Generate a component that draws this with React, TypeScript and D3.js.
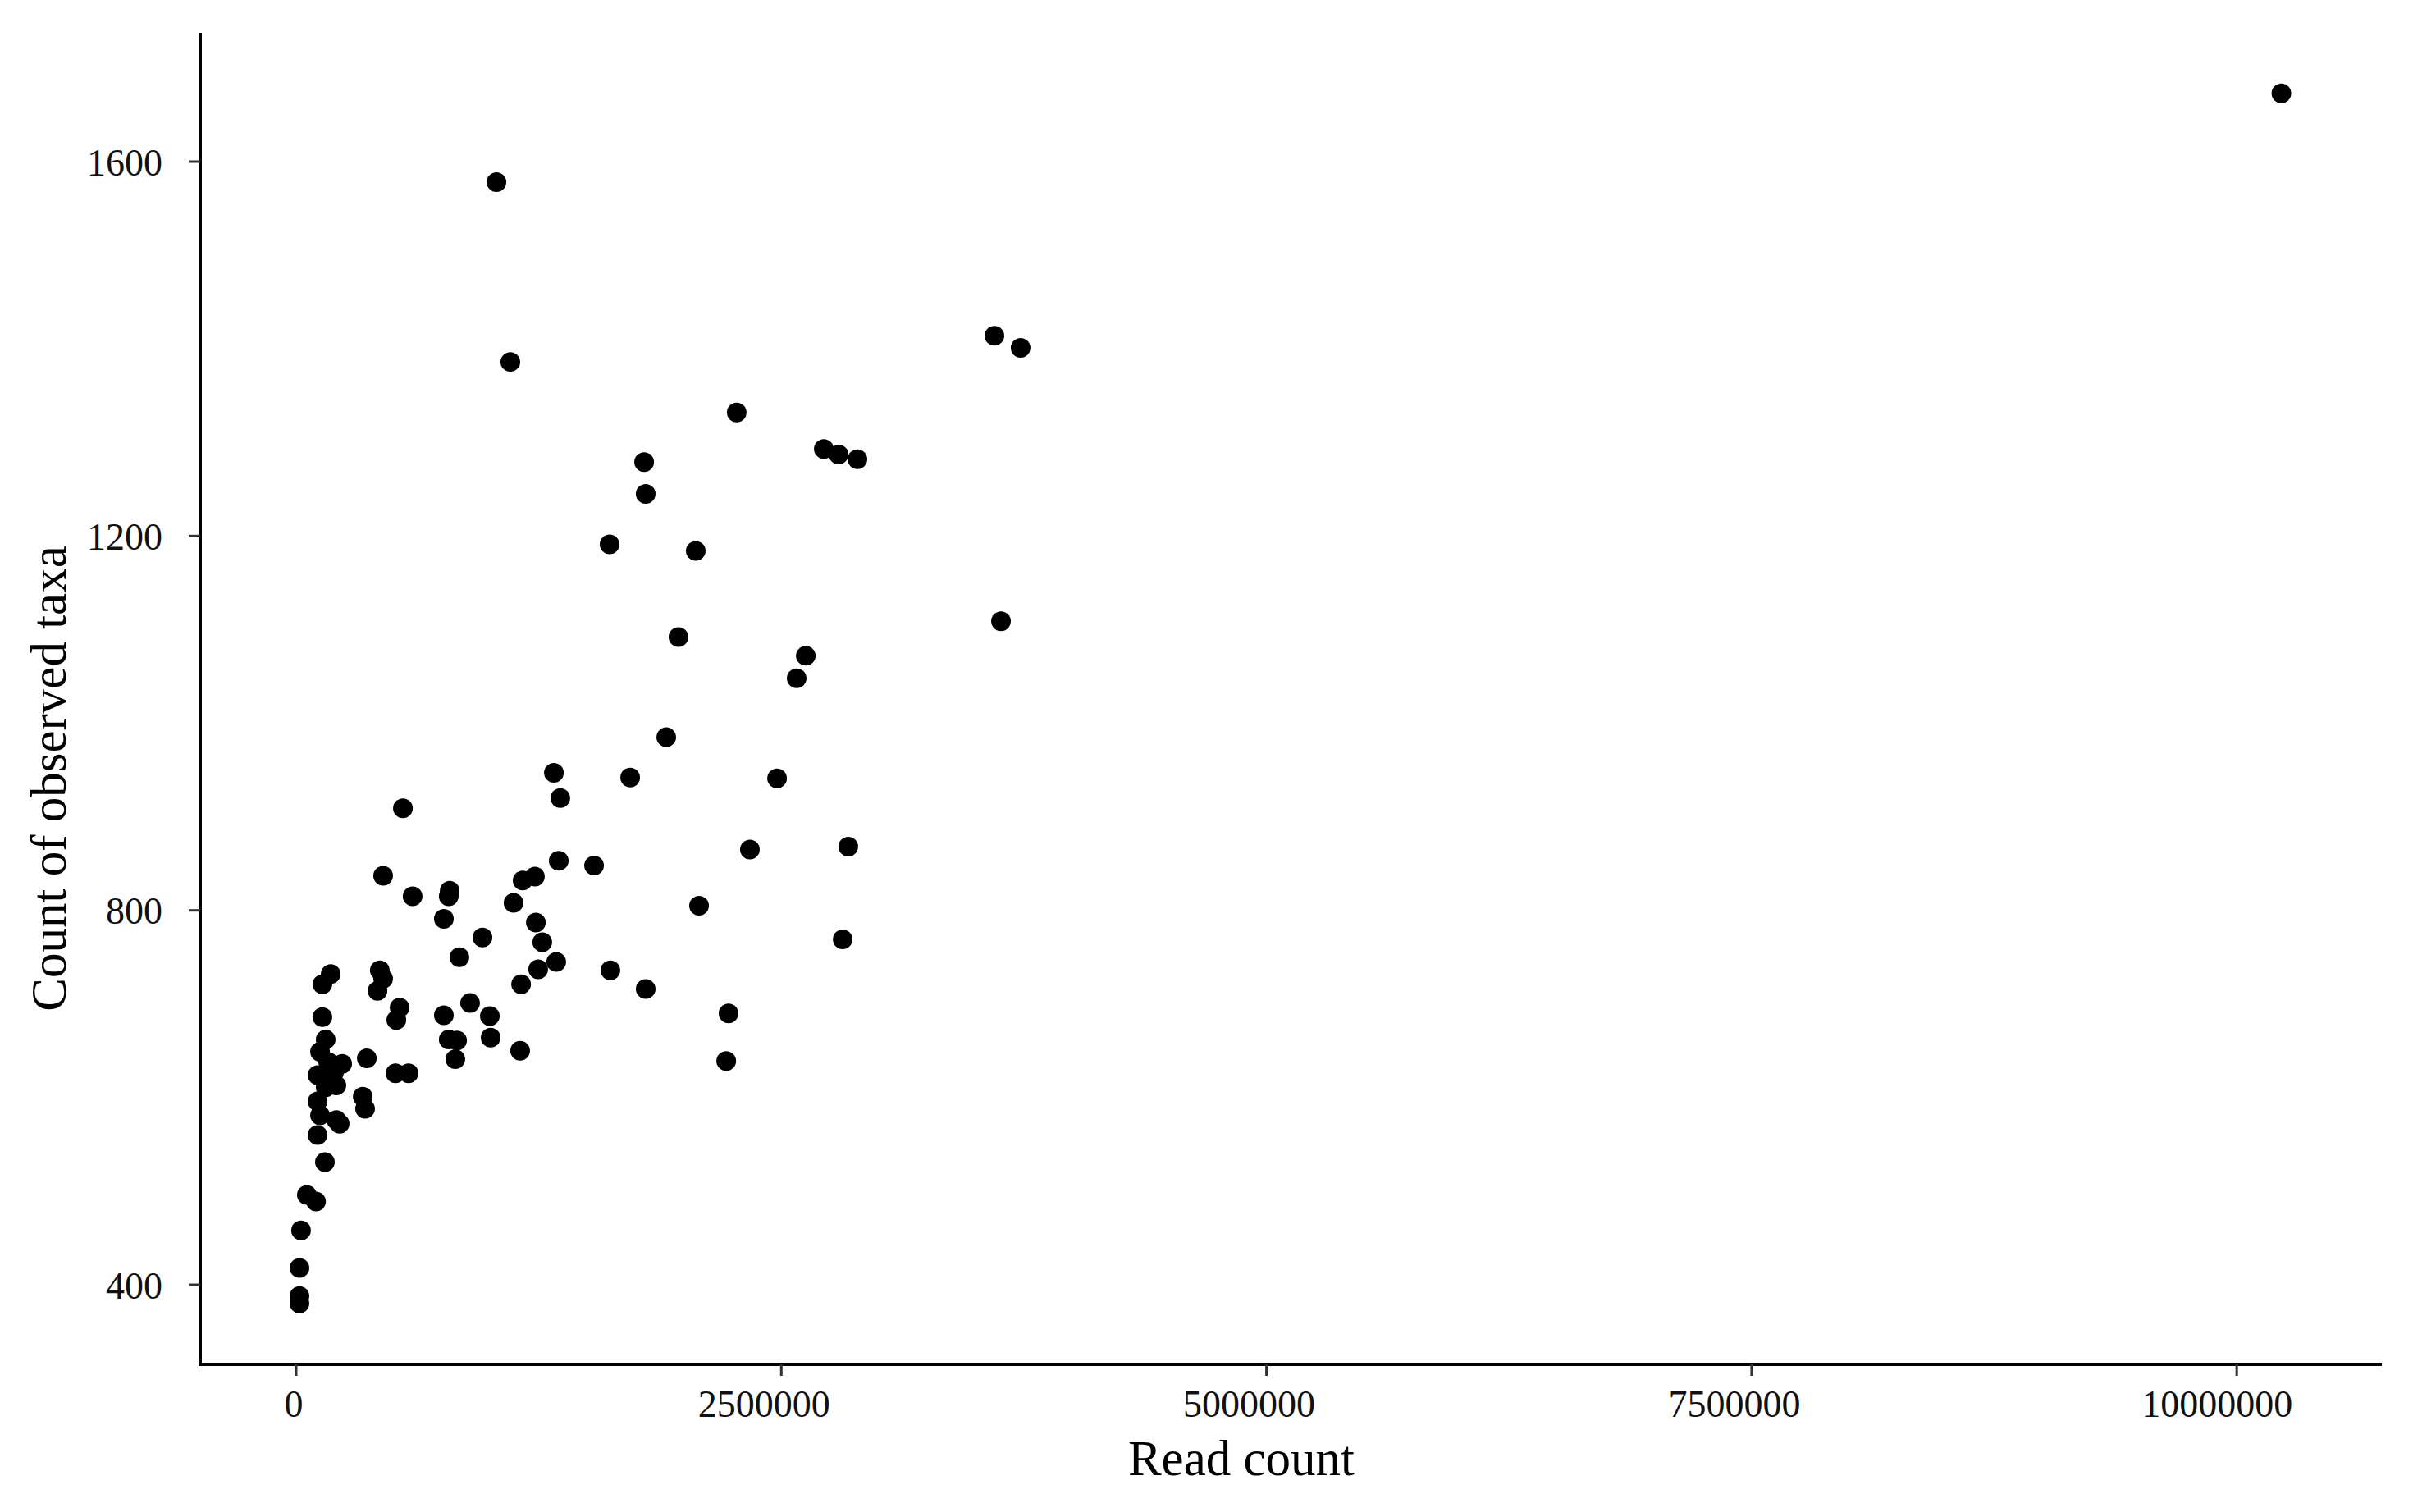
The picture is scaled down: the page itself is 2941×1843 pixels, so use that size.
import React from "react";
import * as d3 from "d3";

// Read count (x) and count of observed taxa (y)
const readCount: number[] = [
  10230000, 1032000, 1103500, 3598000, 3733000, 2270000, 2719000, 2795000, 2892000, 1793000,
  1801000, 1615000, 2059000, 3632000, 1970000, 2626000, 2579000, 1907000, 1328000, 1721000,
  2478000, 1361000, 550000, 2338000, 2845000, 1353000, 1535000, 448000, 1230000, 1167000,
  600000, 791000, 786000, 1120000, 2076000, 761000, 1235000, 2816000, 960000, 1268000,
  841000, 1340000, 1247000, 1619000, 1159000, 1801000, 896000, 761000, 998000, 2228000,
  786000, 829000, 1002000, 820000, 1154000, 2216000, 135000, 178000, 431000, 448000,
  419000, 533000, 516000, 135000, 152000, 123000, 237000, 110000, 195000, 207000,
  110000, 123000, 207000, 110000, 364000, 512000, 579000, 343000, 355000, 148000,
  55000, 102000, 25000, 17000, 17000, 17000, 224000, 165000, 152000,
];
const observedTaxa: number[] = [
  1673, 1578, 1386, 1414, 1401, 1332, 1293, 1287, 1282, 1279,
  1245, 1191, 1184, 1109, 1092, 1072, 1048, 985, 947, 942,
  941, 920, 909, 865, 868, 853, 848, 837, 836, 832,
  815, 821, 815, 808, 805, 791, 787, 769, 771, 766,
  750, 745, 737, 736, 721, 716, 701, 688, 687, 690,
  662, 661, 664, 641, 650, 639, 721, 732, 736, 727,
  714, 696, 683, 686, 662, 649, 636, 624, 627, 613,
  596, 581, 576, 560, 642, 626, 626, 601, 588, 531,
  496, 489, 458, 418, 388, 380, 572, 638, 611,
];

const xTicks: number[] = [0, 2500000, 5000000, 7500000, 10000000];
const yTicks: number[] = [400, 800, 1200, 1600];
const xTitle = "Read count";
const yTitle = "Count of observed taxa";

const W = 2941;
const H = 1843;
const FONT = "'Liberation Serif', 'Times New Roman', serif";

export default function App() {
  const x = d3.scaleLinear().domain([-494700, 10747600]).range([244, 2903]);
  const y = d3.scaleLinear().domain([315, 1737.6]).range([1663, 40]);
  const fmt = d3.format("d");
  const points = readCount.map((v, i) => ({ rx: v, ty: observedTaxa[i] }));

  return (
    <svg
      width={W}
      height={H}
      viewBox={`0 0 ${W} ${H}`}
      style={{ position: "absolute", left: 0, top: 0, display: "block", background: "#fff" }}
    >
      <rect x={0} y={0} width={W} height={H} fill="#fff" />
      {/* points */}
      <g>
        {points.map((p, i) => (
          <circle key={i} cx={x(p.rx)} cy={y(p.ty)} r={12} fill="#000" />
        ))}
      </g>
      {/* y axis */}
      <line x1={x.range()[0]} x2={x.range()[0]} y1={y.range()[1]} y2={y.range()[0] + 2} stroke="#000" strokeWidth={4} />
      {yTicks.map((t) => (
        <g key={"y" + t}>
          <line x1={x.range()[0] - 14} x2={x.range()[0]} y1={y(t)} y2={y(t)} stroke="#333" strokeWidth={3} />
          <text
            x={x.range()[0] - 46}
            y={y(t)}
            dy="0.36em"
            textAnchor="end"
            fontFamily={FONT}
            fontSize={46}
            fill="#111"
          >
            {fmt(t)}
          </text>
        </g>
      ))}
      {/* x axis */}
      <line x1={x.range()[0] - 2} x2={x.range()[1]} y1={y.range()[0]} y2={y.range()[0]} stroke="#000" strokeWidth={4} />
      {xTicks.map((t) => {
        const label = fmt(t);
        return (
          <g key={"x" + t}>
            <line x1={x(t)} x2={x(t)} y1={y.range()[0]} y2={y.range()[0] + 14} stroke="#333" strokeWidth={3} />
            <text
              x={x(t) - 3 * label.length}
              y={1727}
              textAnchor="middle"
              fontFamily={FONT}
              fontSize={46}
              fill="#111"
            >
              {label}
            </text>
          </g>
        );
      })}
      {/* titles */}
      <text x={1513} y={1798} textAnchor="middle" fontFamily={FONT} fontSize={61} fill="#000">
        {xTitle}
      </text>
      <text
        transform={`translate(80, 949) rotate(-90)`}
        textAnchor="middle"
        fontFamily={FONT}
        fontSize={61}
        fill="#000"
      >
        {yTitle}
      </text>
    </svg>
  );
}
